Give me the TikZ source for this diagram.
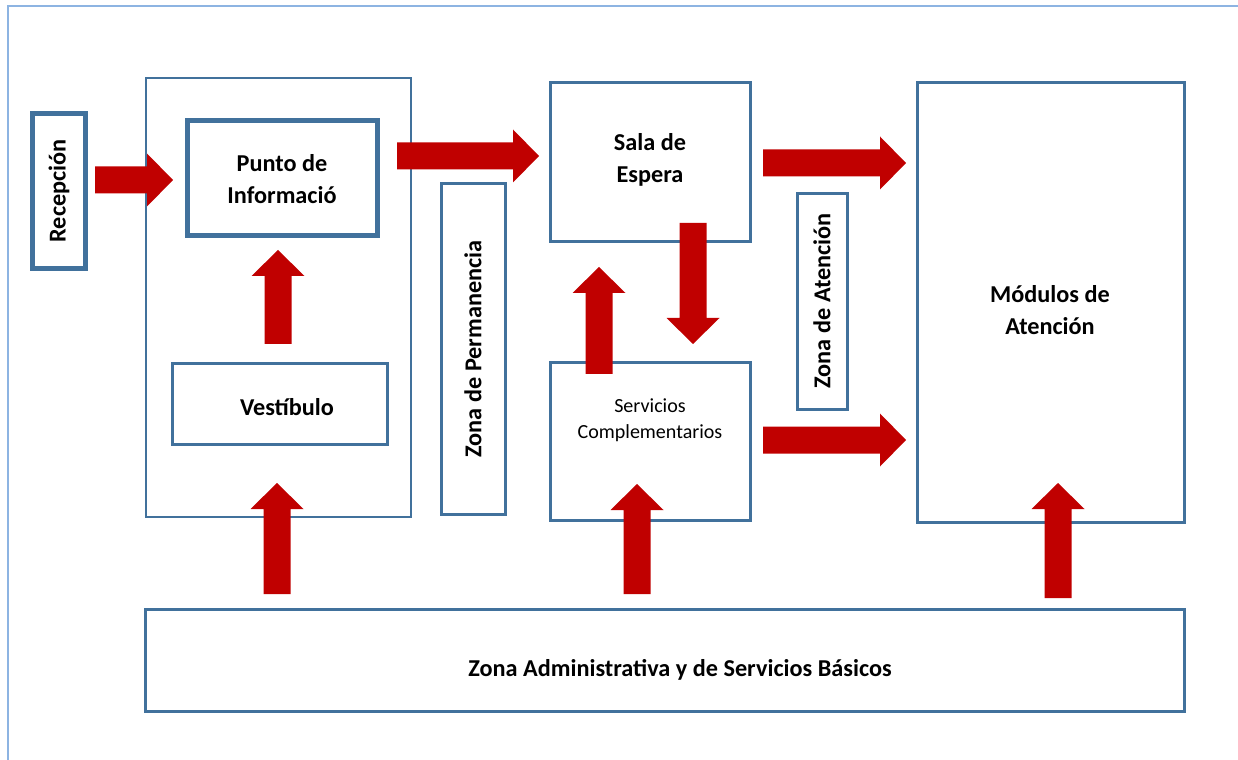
\documentclass[tikz,border=0pt]{standalone}
\usepackage{fontspec}
\setmainfont{Carlito}
\definecolor{boxblue}{HTML}{41719C}
\definecolor{framblue}{HTML}{8DB4E2}
\definecolor{arrowred}{HTML}{C00000}
\tikzset{
  box/.style={draw=boxblue, line width=1.2pt, fill=white, inner sep=0pt, align=center},
  thickbox/.style={box, line width=2.8pt},
  wh/.style 2 args={minimum width=#1*0.02cm, minimum height=#2*0.02cm},
  lbl/.style={inner sep=0pt, align=center, font=\fontsize{13.8}{17.8}\selectfont\bfseries},
  vtext/.style={lbl, rotate=90},
  blockarrow/.style={fill=arrowred, draw=none},
}
\newcommand\rarrow[3]{% x start, x tip, y centre
  \fill[blockarrow] (#1,#3-13.5) -- (#2-26,#3-13.5) -- (#2-26,#3-26.5) -- (#2,#3) -- (#2-26,#3+26.5) -- (#2-26,#3+13.5) -- (#1,#3+13.5) -- cycle;}
\newcommand\uarrow[3]{% x centre, y bottom, y tip
  \fill[blockarrow] (#1-13.5,#2) -- (#1-13.5,#3+26) -- (#1-26.5,#3+26) -- (#1,#3) -- (#1+26.5,#3+26) -- (#1+13.5,#3+26) -- (#1+13.5,#2) -- cycle;}
\newcommand\darrow[3]{% x centre, y top, y tip
  \fill[blockarrow] (#1-13.5,#2) -- (#1-13.5,#3-26) -- (#1-26.5,#3-26) -- (#1,#3) -- (#1+26.5,#3-26) -- (#1+13.5,#3-26) -- (#1+13.5,#2) -- cycle;}
\begin{document}
\begin{tikzpicture}[x=0.02cm, y=-0.02cm]
\useasboundingbox (0,0) rectangle (1238,760);
% frame
\draw[framblue, line width=1.1pt] (8,760) -- (8,6) -- (1238,6);
% boxes
\node[box, wh={265}{439}] (left) at (278.5,297.5) {};
\node[box, wh={1039}{102}] (admin) at (665,660.5) {};
\node[box, wh={200}{159}] (sala) at (650.5,162) {};
\node[box, wh={200}{158}] (serv) at (650.5,441.5) {};
\node[box, wh={267}{440}] (modulos) at (1051,302.5) {};
% arrows
\rarrow{95}{173}{180}
\uarrow{278}{344}{250}
\uarrow{277}{594}{483}
\rarrow{397}{539}{156}
\darrow{693}{223}{344}
\uarrow{599}{374}{267}
\rarrow{763}{906}{163}
\rarrow{763}{906}{440}
\uarrow{637}{594}{484}
\uarrow{1058}{598}{483}
% inner boxes
\node[thickbox, wh={53}{155}] (recep) at (59,191) {};
\node[thickbox, wh={190}{115}] (punto) at (282.5,178) {};
\node[box, wh={215}{81}] (vest) at (280,404) {};
\node[box, wh={64}{331}] (perm) at (473.5,349) {};
\node[box, wh={50}{216}] (aten) at (822.5,301.5) {};
% texts
\node[vtext] (recept) at (59,191) {Recepción};
\node[lbl] (puntot) at (282,179) {Punto de\\Informació};
\node[lbl] (vestt) at (287,407) {Vestíbulo};
\node[vtext] (permt) at (473,349) {Zona de Permanencia};
\node[lbl] (salat) at (650,160) {Sala de\\Espera};
\node[inner sep=0pt, align=center, font=\fontsize{11.4}{14.7}\selectfont] (servt) at (650,420) {Servicios\\Complementarios};
\node[vtext] (atent) at (822,301) {Zona de Atención};
\node[lbl] (modt) at (1050,310) {Módulos de\\Atención};
\node[lbl] (admint) at (680,670) {Zona Administrativa y de Servicios Básicos};
\end{tikzpicture}
\end{document}
